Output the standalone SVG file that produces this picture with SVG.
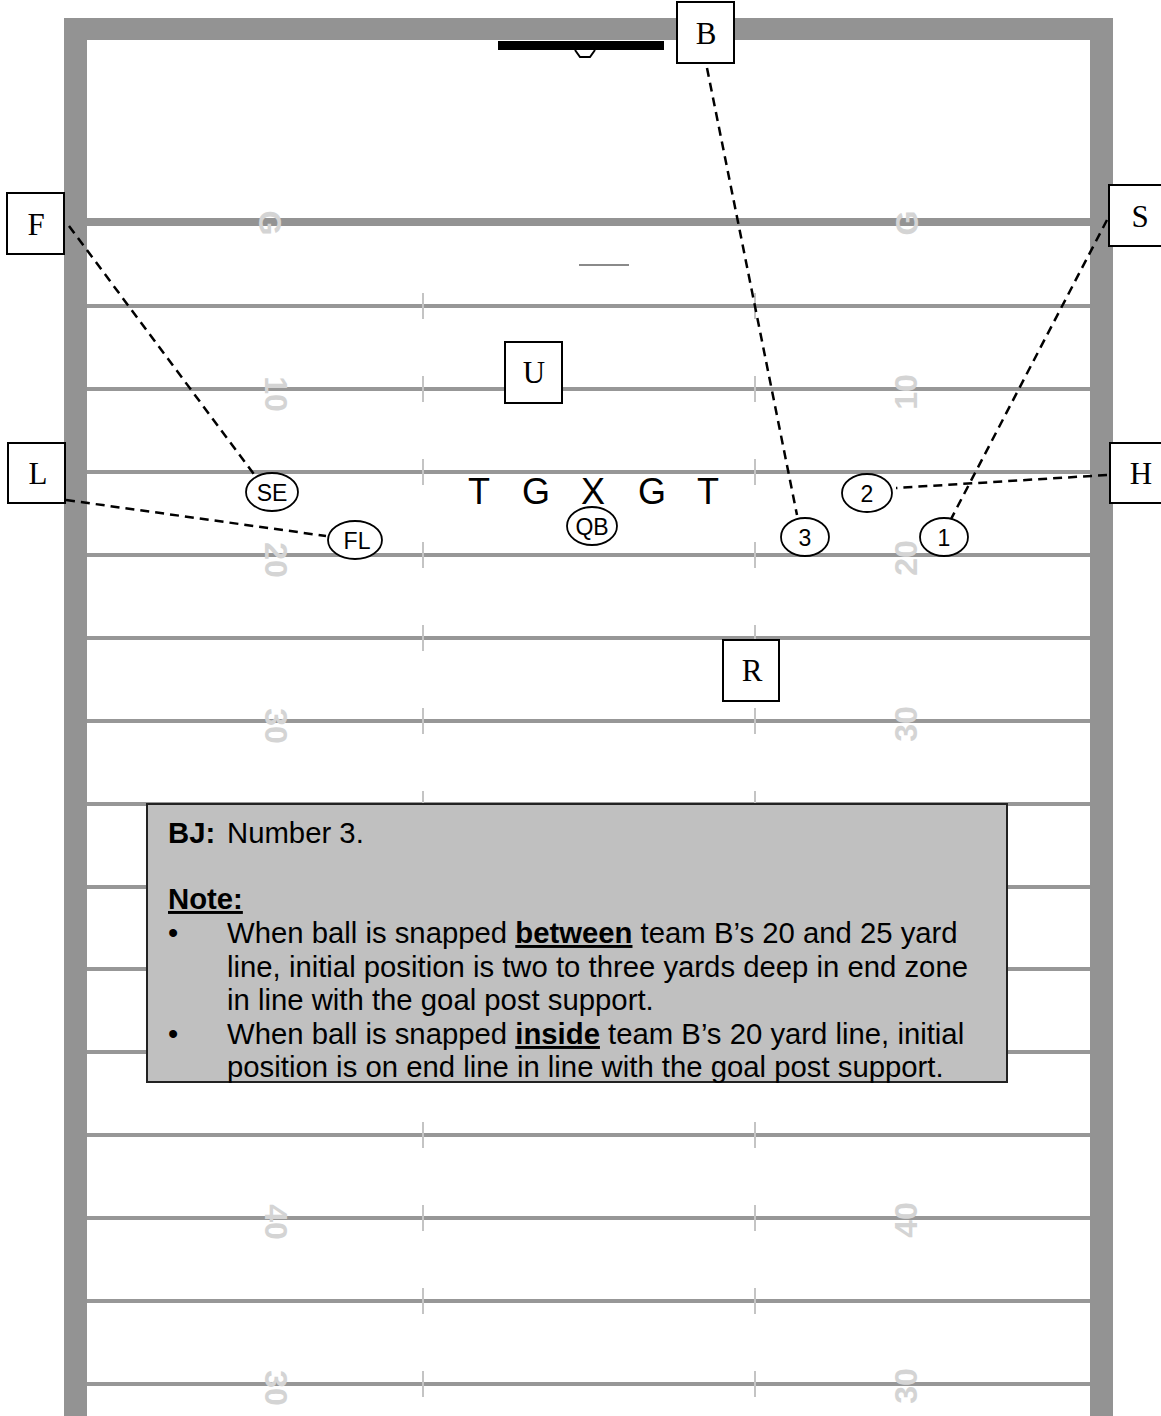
<svg xmlns="http://www.w3.org/2000/svg" width="1161" height="1416" viewBox="0 0 1161 1416">
<style>
.field{fill:#939393}
.yl{stroke:#979797;stroke-width:4}
.hash{stroke:#c4c4c4;stroke-width:2}
.num{font-family:"Liberation Sans",Arial,sans-serif;font-size:32px;font-weight:bold;fill:#d4d4d4;text-anchor:middle;dominant-baseline:central}
.box{fill:#fff;stroke:#000;stroke-width:2}
.bl{font-family:"Liberation Serif","Times New Roman",serif;font-size:31px;fill:#000;text-anchor:middle;dominant-baseline:central}
.ell{fill:#fff;stroke:#000;stroke-width:1.8}
.el{font-family:"Liberation Sans",Arial,sans-serif;font-size:23px;fill:#000;text-anchor:middle;dominant-baseline:central}
.ln{font-family:"Liberation Sans",Arial,sans-serif;font-size:36px;fill:#000;text-anchor:middle}
.conn{stroke:#000;stroke-width:2.5;stroke-dasharray:9,6;fill:none}
.note{font-family:"Liberation Sans",Arial,sans-serif;font-size:29.3px;fill:#000}
</style>
<rect width="1161" height="1416" fill="#fff"/>
<g id="field">
<rect class="field" x="64" y="18" width="1049" height="22"/>
<rect class="field" x="64" y="18" width="23" height="1398"/>
<rect class="field" x="1090" y="18" width="23" height="1398"/>
<rect class="field" x="87" y="218" width="1003" height="8"/>
<line x1="579" y1="265" x2="629" y2="265" stroke="#8a8a8a" stroke-width="2"/>
<g class="yl">
<line x1="87" y1="306" x2="1090" y2="306"/>
<line x1="87" y1="389" x2="1090" y2="389"/>
<line x1="87" y1="472" x2="1090" y2="472"/>
<line x1="87" y1="555" x2="1090" y2="555"/>
<line x1="87" y1="638" x2="1090" y2="638"/>
<line x1="87" y1="721" x2="1090" y2="721"/>
<line x1="87" y1="804" x2="1090" y2="804"/>
<line x1="87" y1="887" x2="1090" y2="887"/>
<line x1="87" y1="969" x2="1090" y2="969"/>
<line x1="87" y1="1052" x2="1090" y2="1052"/>
<line x1="87" y1="1135" x2="1090" y2="1135"/>
<line x1="87" y1="1218" x2="1090" y2="1218"/>
<line x1="87" y1="1301" x2="1090" y2="1301"/>
<line x1="87" y1="1384" x2="1090" y2="1384"/>
</g>
<g class="hash">
<line x1="423" y1="293" x2="423" y2="319"/><line x1="755" y1="293" x2="755" y2="319"/>
<line x1="423" y1="376" x2="423" y2="402"/><line x1="755" y1="376" x2="755" y2="402"/>
<line x1="423" y1="459" x2="423" y2="485"/><line x1="755" y1="459" x2="755" y2="485"/>
<line x1="423" y1="542" x2="423" y2="568"/><line x1="755" y1="542" x2="755" y2="568"/>
<line x1="423" y1="625" x2="423" y2="651"/><line x1="755" y1="625" x2="755" y2="651"/>
<line x1="423" y1="708" x2="423" y2="734"/><line x1="755" y1="708" x2="755" y2="734"/>
<line x1="423" y1="791" x2="423" y2="817"/><line x1="755" y1="791" x2="755" y2="817"/>
<line x1="423" y1="1122" x2="423" y2="1148"/><line x1="755" y1="1122" x2="755" y2="1148"/>
<line x1="423" y1="1205" x2="423" y2="1231"/><line x1="755" y1="1205" x2="755" y2="1231"/>
<line x1="423" y1="1288" x2="423" y2="1314"/><line x1="755" y1="1288" x2="755" y2="1314"/>
<line x1="423" y1="1371" x2="423" y2="1397"/><line x1="755" y1="1371" x2="755" y2="1397"/>
</g>
<g id="yard-numbers">
<text class="num" transform="translate(270,223) rotate(90)">G</text>
<text class="num" transform="translate(907,223) rotate(-90)">G</text>
<text class="num" transform="translate(276,394) rotate(90)">10</text>
<text class="num" transform="translate(906,392) rotate(-90)">10</text>
<text class="num" transform="translate(276,560) rotate(90)">20</text>
<text class="num" transform="translate(906,558) rotate(-90)">20</text>
<text class="num" transform="translate(276,726) rotate(90)">30</text>
<text class="num" transform="translate(906,724) rotate(-90)">30</text>
<text class="num" transform="translate(276,1222) rotate(90)">40</text>
<text class="num" transform="translate(906,1220) rotate(-90)">40</text>
<text class="num" transform="translate(276,1388) rotate(90)">30</text>
<text class="num" transform="translate(906,1386) rotate(-90)">30</text>
</g>
<g id="goalpost">
<rect x="498" y="41" width="166" height="9" fill="#000"/>
<path d="M575,50 L580,57 L590,57 L595,50" fill="#fff" stroke="#000" stroke-width="2"/>
</g>
</g>
<g id="connectors">
<line class="conn" x1="707" y1="68" x2="797" y2="515"/>
<line class="conn" x1="69" y1="226" x2="256" y2="477"/>
<line class="conn" x1="1107" y1="220" x2="950" y2="521"/>
<line class="conn" x1="1107" y1="475" x2="896" y2="488"/>
<line class="conn" x1="66" y1="500" x2="326" y2="536"/>
</g>
<g id="node-B"><rect class="box" x="677" y="2" width="57" height="61"/><text class="bl" x="706" y="33">B</text></g>
<g id="node-F"><rect class="box" x="7" y="193" width="57" height="61"/><text class="bl" x="36" y="224">F</text></g>
<g id="node-S"><rect class="box" x="1109" y="185" width="57" height="61"/><text class="bl" x="1140" y="216">S</text></g>
<g id="node-L"><rect class="box" x="8" y="443" width="57" height="60"/><text class="bl" x="38" y="473">L</text></g>
<g id="node-H"><rect class="box" x="1110" y="443" width="57" height="60"/><text class="bl" x="1141" y="473">H</text></g>
<g id="node-U"><rect class="box" x="505" y="342" width="57" height="61"/><text class="bl" x="534" y="372">U</text></g>
<g id="node-R"><rect class="box" x="723" y="640" width="56" height="61"/><text class="bl" x="752" y="670">R</text></g>
<g id="node-SE"><ellipse class="ell" cx="272" cy="492" rx="26" ry="19"/><text class="el" x="272" y="493">SE</text></g>
<g id="node-FL"><ellipse class="ell" cx="355" cy="540" rx="27" ry="19"/><text class="el" x="357" y="541">FL</text></g>
<g id="node-QB"><ellipse class="ell" cx="592" cy="526" rx="25" ry="19"/><text class="el" x="592" y="527">QB</text></g>
<g id="node-3"><ellipse class="ell" cx="805" cy="537" rx="24" ry="19"/><text class="el" x="805" y="538">3</text></g>
<g id="node-2"><ellipse class="ell" cx="867" cy="493" rx="25" ry="19"/><text class="el" x="867" y="494">2</text></g>
<g id="node-1"><ellipse class="ell" cx="944" cy="537" rx="24" ry="19"/><text class="el" x="944" y="538">1</text></g>
<g id="line">
<text class="ln" x="479" y="504">T</text>
<text class="ln" x="536" y="504">G</text>
<text class="ln" x="593" y="504">X</text>
<text class="ln" x="652" y="504">G</text>
<text class="ln" x="708" y="504">T</text>
</g>
<g id="notebox">
<rect x="147" y="804" width="860" height="278" fill="#c0c0c0" stroke="#222" stroke-width="2"/>
<text class="note" x="168" y="843"><tspan font-weight="bold">BJ:</tspan><tspan x="227">Number 3.</tspan></text>
<text class="note" x="168" y="909" font-weight="bold" text-decoration="underline">Note:</text>
<text class="note" x="168" y="943">•</text>
<text class="note" x="227" y="943">When ball is snapped <tspan font-weight="bold" text-decoration="underline">between</tspan> team B’s 20 and 25 yard</text>
<text class="note" x="227" y="977">line, initial position is two to three yards deep in end zone</text>
<text class="note" x="227" y="1010">in line with the goal post support.</text>
<text class="note" x="168" y="1044">•</text>
<text class="note" x="227" y="1044">When ball is snapped <tspan font-weight="bold" text-decoration="underline">inside</tspan> team B’s 20 yard line, initial</text>
<text class="note" x="227" y="1077">position is on end line in line with the goal post support.</text>
</g>
</svg>
